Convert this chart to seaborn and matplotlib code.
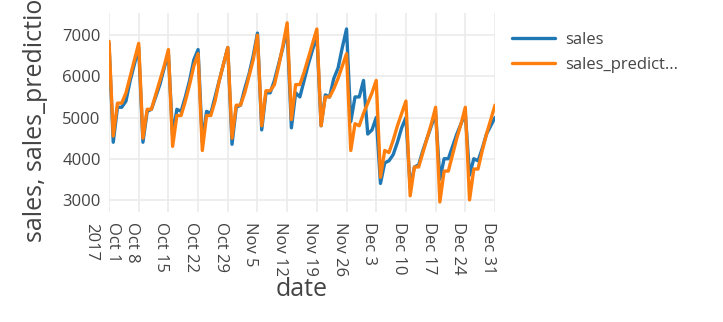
import numpy as np
import pandas as pd

import matplotlib
matplotlib.use('Agg')
import matplotlib.pyplot as plt
import matplotlib.dates as mdates
from matplotlib.transforms import ScaledTranslation
import seaborn as sns

# daily values, Oct 1 .. Dec 31 2017
dates = pd.date_range('2017-10-01', '2017-12-31', freq='D')
sales = [6800,
	4400, 5250, 5250, 5400, 5900, 6300, 6700,
	4400, 5150, 5200, 5500, 5800, 6200, 6550,
	4550, 5200, 5150, 5500, 5900, 6400, 6650,
	4400, 5150, 5100, 5500, 5900, 6300, 6700,
	4350, 5250, 5300, 5700, 6050, 6500, 7050,
	4700, 5600, 5600, 5900, 6300, 6700, 7150,
	4750, 5600, 5500, 5900, 6300, 6650, 7000,
	4800, 5550, 5500, 5950, 6200, 6700, 7150,
	4900, 5500, 5500, 5900, 4600, 4700, 5000,
	3400, 3900, 3950, 4100, 4400, 4750, 5000,
	3300, 3800, 3850, 4200, 4500, 4800, 5100,
	3500, 4000, 4000, 4300, 4600, 4850, 5100,
	3600, 4000, 3950, 4250, 4600, 4800, 5000]
sales_prediction = [6850,
	4550, 5350, 5350, 5600, 6000, 6400, 6800,
	4500, 5200, 5200, 5550, 5900, 6250, 6650,
	4300, 5050, 5050, 5400, 5800, 6250, 6550,
	4200, 5050, 5050, 5400, 5900, 6300, 6700,
	4500, 5300, 5300, 5600, 6000, 6400, 7000,
	4800, 5650, 5650, 5800, 6250, 6750, 7300,
	4950, 5800, 5800, 6100, 6450, 6800, 7150,
	4800, 5500, 5500, 5700, 5950, 6250, 6550,
	4200, 4850, 4800, 5100, 5350, 5600, 5900,
	3550, 4200, 4150, 4450, 4800, 5100, 5400,
	3100, 3800, 3800, 4150, 4500, 4850, 5250,
	2950, 3700, 3700, 4100, 4500, 4850, 5250,
	3000, 3750, 3750, 4200, 4600, 4950, 5300]
legend_labels = ['sales', 'sales_predict...']
y_ticks = [3000, 4000, 5000, 6000, 7000]

df = pd.DataFrame({'date': dates, 'sales': sales, 'sales_prediction': sales_prediction})
dfLong = df.melt(id_vars='date', var_name='variable', value_name='value')

sns.set_style('white')
plt.rcParams['font.family'] = ['Open Sans', 'DejaVu Sans']

fig = plt.figure(figsize=(7.23, 3.22), dpi=100)
W, H = 723, 322
ax = fig.add_axes([109/W, (H-212)/H, (495-109)/W, (212-13.4)/H])

sns.lineplot(data=dfLong, x='date', y='value', hue='variable',
	palette=['#1f77b4', '#ff7f0e'], linewidth=2.4, ax=ax, legend=False)

ax.set_xlim(dates[0], dates[-1])
ax.set_ylim(2707, 7528)

# weekly ticks on sundays
sundays = pd.date_range('2017-10-01', '2017-12-31', freq='7D')
ax.set_xticks(sundays)
tickLabels = [f'{d:%b} {d.day}' for d in sundays]
tickLabels[0] = tickLabels[0] + '\n2017'
ax.set_xticklabels(tickLabels, rotation=-90, va='top', ha='center', linespacing=1.45)
ax.set_yticks(y_ticks)

ax.tick_params(axis='both', length=0, labelsize=12, labelcolor='#444444')
ax.tick_params(axis='x', pad=7)
ax.tick_params(axis='y', pad=6)
shift = ScaledTranslation(-7/100, 0, fig.dpi_scale_trans)
for lab in ax.get_xticklabels():
	lab.set_transform(lab.get_transform() + shift)

ax.grid(True, color='#ebebeb', linewidth=1.2)
for s in ax.spines.values():
	s.set_visible(False)

ax.set_xlabel('date', fontsize=18, color='#444444', labelpad=1)
ax.set_ylabel('sales, sales_prediction', fontsize=18, color='#444444', labelpad=10)

handles = [plt.Line2D([], [], color=c, linewidth=2.4) for c in ['#1f77b4', '#ff7f0e']]
fig.legend(handles, legend_labels, loc='upper left', bbox_to_anchor=(497/W, 1-17/H),
	frameon=False, fontsize=12, labelcolor='#444444', handlelength=2.6,
	handletextpad=0.6, labelspacing=0.55)

fig.savefig('out.png', dpi=100)
